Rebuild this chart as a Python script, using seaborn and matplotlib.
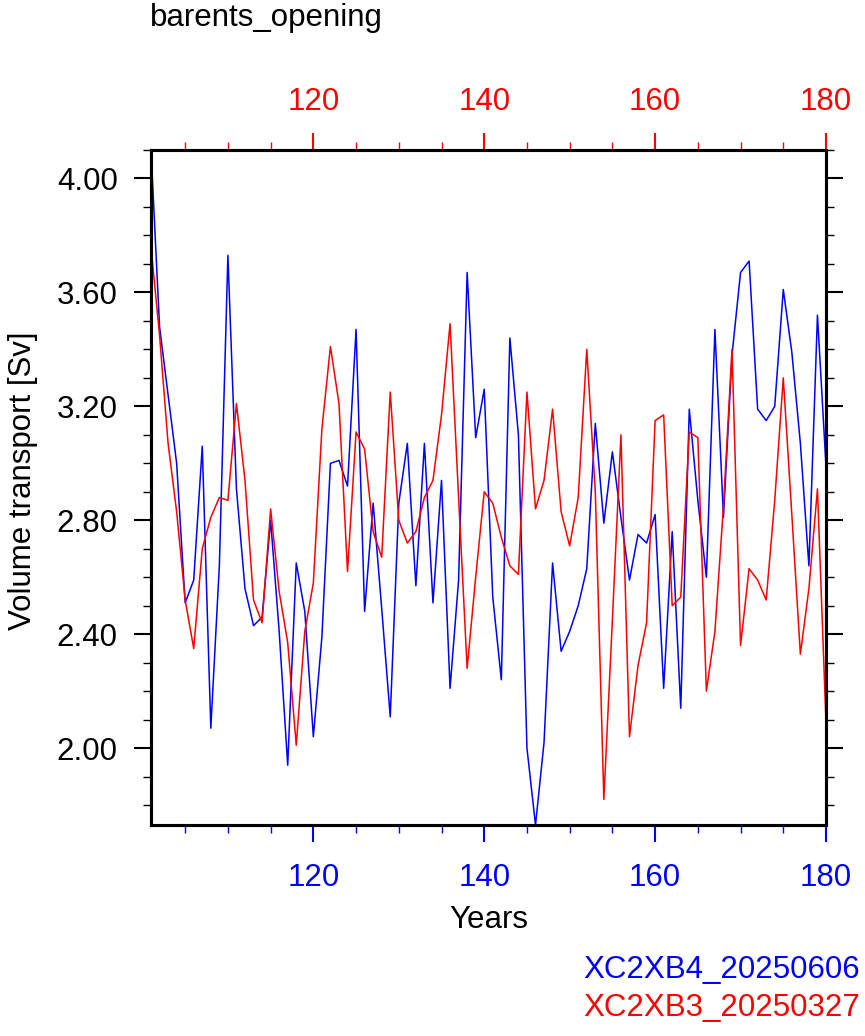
import numpy as np
import pandas as pd
import matplotlib
matplotlib.use("Agg")
import matplotlib.pyplot as plt
import seaborn as sns
from matplotlib.ticker import MultipleLocator, FormatStrFormatter

years = list(range(101, 181))

xc2xb4 = [
    4.10, 3.48, 3.24, 3.00, 2.51, 2.59, 3.06, 2.07, 2.64, 3.73,
    2.91, 2.56, 2.43, 2.46, 2.80, 2.41, 1.94, 2.65, 2.48, 2.04,
    2.39, 3.00, 3.01, 2.92, 3.47, 2.48, 2.86, 2.49, 2.11, 2.86,
    3.07, 2.57, 3.07, 2.51, 2.94, 2.21, 2.59, 3.67, 3.09, 3.26,
    2.53, 2.24, 3.44, 3.10, 2.00, 1.73, 2.02, 2.65, 2.34, 2.41,
    2.50, 2.63, 3.14, 2.79, 3.04, 2.81, 2.59, 2.75, 2.72, 2.82,
    2.21, 2.76, 2.14, 3.19, 2.87, 2.60, 3.47, 2.81, 3.38, 3.67,
    3.71, 3.19, 3.15, 3.20, 3.61, 3.39, 3.07, 2.64, 3.52, 2.99,
]

xc2xb3 = [
    3.76, 3.45, 3.07, 2.83, 2.52, 2.35, 2.70, 2.81, 2.88, 2.87,
    3.21, 2.94, 2.52, 2.44, 2.84, 2.55, 2.37, 2.01, 2.41, 2.58,
    3.12, 3.41, 3.21, 2.62, 3.11, 3.05, 2.76, 2.67, 3.25, 2.80,
    2.72, 2.76, 2.88, 2.94, 3.17, 3.49, 2.88, 2.28, 2.60, 2.90,
    2.86, 2.74, 2.64, 2.61, 3.25, 2.84, 2.94, 3.19, 2.83, 2.71,
    2.88, 3.40, 2.90, 1.82, 2.45, 3.10, 2.04, 2.29, 2.44, 3.15,
    3.17, 2.50, 2.53, 3.11, 3.09, 2.20, 2.41, 2.85, 3.40, 2.36,
    2.63, 2.59, 2.52, 2.87, 3.30, 2.82, 2.33, 2.56, 2.91, 2.09,
]

runs = ["XC2XB4_20250606", "XC2XB3_20250327"]
colors = ["blue", "red"]

df = pd.DataFrame({
    "year": years * 2,
    "transport": xc2xb4 + xc2xb3,
    "run": [runs[0]] * len(years) + [runs[1]] * len(years),
})

sns.set_style("white")
plt.rcParams["font.family"] = ["Liberation Sans", "DejaVu Sans"]
plt.rcParams["text.color"] = "black"
plt.rcParams["axes.labelcolor"] = "black"

fs = 22.5

fig = plt.figure(figsize=(8.65, 10.36), dpi=100)
ax = fig.add_axes([151 / 865, 1 - 825 / 1036, 675 / 865, 675 / 1036])

sns.lineplot(data=df, x="year", y="transport", hue="run",
             palette=dict(zip(runs, colors)), linewidth=1.1,
             legend=False, ax=ax)

ymin = min(xc2xb4 + xc2xb3)
ymax = max(xc2xb4 + xc2xb3)
ax.set_xlim(years[0], years[-1])
ax.set_ylim(ymin, ymax)
ax.set_xlabel("")
ax.set_ylabel("")

for s in ax.spines.values():
    s.set_linewidth(2.2)
    s.set_color("black")

ax.xaxis.set_major_locator(MultipleLocator(20))
ax.xaxis.set_minor_locator(MultipleLocator(5))
ax.yaxis.set_major_locator(MultipleLocator(0.4))
ax.yaxis.set_minor_locator(MultipleLocator(0.1))
ax.yaxis.set_major_formatter(FormatStrFormatter("%.2f"))

ax.tick_params(axis="x", which="both", direction="out", colors="blue",
               labelsize=fs, pad=15, bottom=True, top=False)
ax.tick_params(axis="x", which="major", length=12, width=1.5)
ax.tick_params(axis="x", which="minor", length=6, width=1.0)
ax.tick_params(axis="y", which="both", direction="out", colors="black",
               labelsize=fs, pad=12, left=True, right=True)
ax.tick_params(axis="y", which="major", length=12, width=1.5)
ax.tick_params(axis="y", which="minor", length=6, width=1.0)

top = ax.twiny()
top.set_xlim(ax.get_xlim())
top.xaxis.set_major_locator(MultipleLocator(20))
top.xaxis.set_minor_locator(MultipleLocator(5))
top.tick_params(axis="x", which="both", direction="out", colors="red",
                labelsize=fs, pad=12)
top.tick_params(axis="x", which="major", length=12, width=1.5)
top.tick_params(axis="x", which="minor", length=6, width=1.0)
for s in top.spines.values():
    s.set_linewidth(2.2)
    s.set_color("black")

fig.text(150 / 865, 1 - 18 / 1036, "barents_opening", fontsize=fs,
         ha="left", va="center")
fig.text(23 / 865, 1 - 481 / 1036, "Volume transport [Sv]", fontsize=fs,
         rotation=90, ha="center", va="center")
fig.text(489 / 865, 1 - 920 / 1036, "Years", fontsize=fs,
         ha="center", va="center")
fig.text(860 / 865, 1 - 970 / 1036, runs[0], color=colors[0], fontsize=fs,
         ha="right", va="center")
fig.text(860 / 865, 1 - 1008 / 1036, runs[1], color=colors[1], fontsize=fs,
         ha="right", va="center")

fig.savefig("out.png", dpi=100, facecolor="white")
